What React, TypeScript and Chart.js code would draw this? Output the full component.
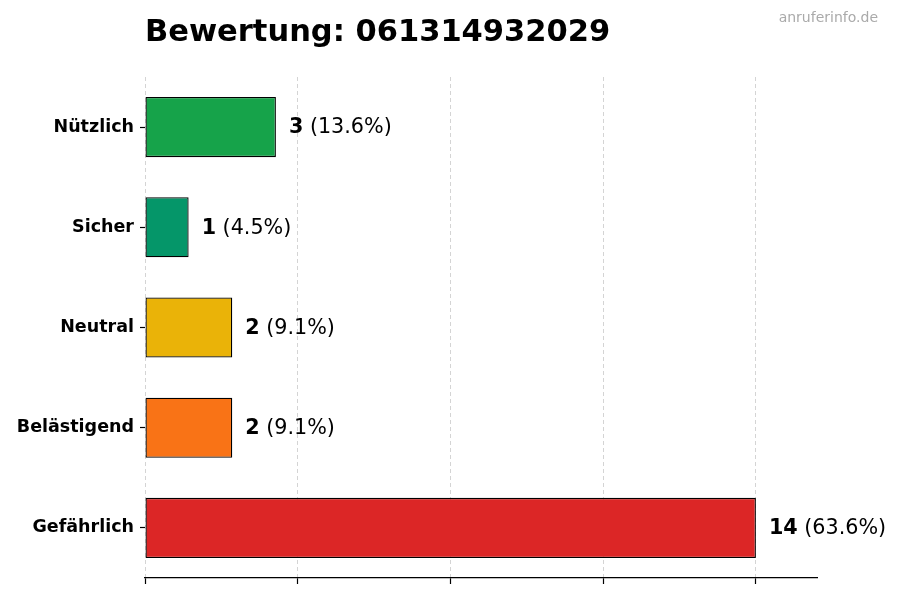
import React, { useEffect, useRef } from 'react';
import Chart from 'chart.js/auto';

const categories = ['Nützlich', 'Sicher', 'Neutral', 'Belästigend', 'Gefährlich'];
const counts = [3, 1, 2, 2, 14];
const percents = ['13.6%', '4.5%', '9.1%', '9.1%', '63.6%'];
const barColors = ['#16a34a', '#059669', '#eab308', '#f97316', '#dc2626'];

const FONT = '"DejaVu Sans", sans-serif';
const MAX_VALUE = Math.max(...counts);

const annotations = {
  id: 'annotations',
  afterDatasetsDraw(chart: any) {
    const { ctx, chartArea } = chart;
    ctx.save();

    // title + watermark
    ctx.textBaseline = 'alphabetic';
    ctx.fillStyle = '#000';
    ctx.font = `bold 30.5px ${FONT}`;
    ctx.textAlign = 'left';
    ctx.fillText('Bewertung: 061314932029', chartArea.left, 41);

    ctx.fillStyle = '#aaaaaa';
    ctx.font = `14px ${FONT}`;
    ctx.textAlign = 'right';
    ctx.fillText('anruferinfo.de', 878, 22);

    // value labels
    const meta = chart.getDatasetMeta(0);
    ctx.textBaseline = 'middle';
    ctx.textAlign = 'left';
    meta.data.forEach((bar: any, i: number) => {
      let x = bar.x + 13;
      const y = bar.y + 1;
      ctx.fillStyle = '#000';
      ctx.font = `bold 20.7px ${FONT}`;
      const num = String(counts[i]);
      ctx.fillText(num, x, y);
      x += ctx.measureText(num).width;
      ctx.font = `20.7px ${FONT}`;
      ctx.fillText(` (${percents[i]})`, x, y);
    });
    ctx.restore();
  },
};

const App = () => {
  const canvasRef = useRef<HTMLCanvasElement>(null);

  useEffect(() => {
    const canvas = canvasRef.current;
    let chart: Chart | null = null;

    if (canvas) {
      chart = new Chart(canvas, {
        type: 'bar',
        data: {
          labels: categories,
          datasets: [
            {
              data: counts,
              backgroundColor: barColors,
              borderColor: '#000',
              borderWidth: 1.3,
              borderSkipped: false,
              categoryPercentage: 1,
              barPercentage: 0.6,
            },
          ],
        },
        options: {
          indexAxis: 'y',
          animation: false,
          responsive: false,
          maintainAspectRatio: false,
          layout: { padding: { top: 77, right: 83, bottom: 2, left: 0 } },
          plugins: {
            legend: { display: false },
            tooltip: { enabled: false },
            title: { display: false },
          },
          scales: {
            x: {
              min: 0,
              max: 15.4,
              ticks: { display: false, stepSize: 3.5 },
              grid: {
                color: (c: any) => (c.tick && c.tick.value > MAX_VALUE ? 'rgba(0,0,0,0)' : '#d4d4d4'),
                tickColor: (c: any) => (c.tick && c.tick.value > MAX_VALUE ? 'rgba(0,0,0,0)' : '#000'),
                tickLength: 6,
                tickWidth: 1.2,
                lineWidth: 1,
              },
              border: { display: true, color: '#000', width: 1.3, dash: [4, 3] },
              afterFit: (s: any) => {
                s.height = 20;
              },
            },
            y: {
              grid: {
                drawOnChartArea: false,
                offset: false,
                tickColor: '#000',
                tickLength: 5,
                tickWidth: 1.2,
              },
              border: { display: false },
              ticks: {
                color: '#000',
                padding: 6,
                font: { family: FONT, size: 17.5, weight: 'bold' },
              },
              afterFit: (s: any) => {
                s.width = 145;
              },
            },
          },
        },
        plugins: [annotations],
      });
    }

    return () => {
      if (chart) {
        chart.destroy();
      }
    };
  }, []);

  return (
    <div style={{ position: 'fixed', left: 0, top: 0, width: 900, height: 600, background: '#fff' }}>
      <canvas ref={canvasRef} width={900} height={600} style={{ width: 900, height: 600 }}></canvas>
    </div>
  );
};

export default App;
